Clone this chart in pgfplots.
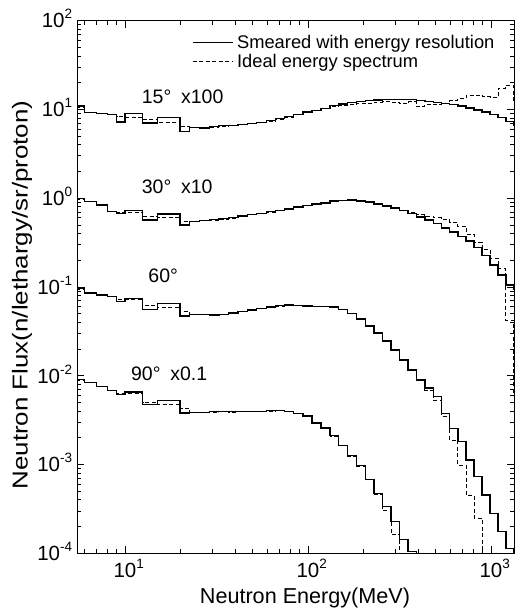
\documentclass[border=0pt]{standalone}
\usepackage{fontspec}
\setmainfont{Liberation Sans}
\usepackage{graphicx}
\usepackage{pgfplots}
\usepackage{pgfplotstable}
\pgfplotsset{compat=1.18}
\newcommand\ex[1]{\raisebox{0.44em}{\fontsize{13.5}{14}\selectfont #1}}

\pgfplotstableread{
E F
5 10.9
6 9.2
7 8.97
8 8.74
9 7.25
10 9.0
12.5 7.06
15 8.13
20 5.6
22.62 6.32
25.57 6.16
28.89 6.40
32.6 6.57
36.8 6.65
41.45 6.83
46.66 7.01
52.52 7.19
59.1 7.48
66.36 7.88
74.6 8.30
83.66 8.85
93.78 9.33
105.2 9.82
117.8 10.34
131.8 11.0
147.4 11.5
164.8 11.9
184.1 12.3
205.4 12.56
229.2 12.8
255.4 12.96
284.6 13.06
316.6 13.0
352.4 12.86
391.6 12.6
435.3 12.34
483.3 11.98
536.5 11.62
594.9 11.32
659.4 10.9
730.2 10.4
808.6 9.87
894.4 9.37
988.8 8.85
1092 8.19
1206 7.38
1330 6.65
1468 6.65
}\tabAs

\pgfplotstableread{
E F
5 10.5
6 9.2
7 8.97
8 8.74
9 8.3
10 8.19
12.5 7.78
15 7.19
20 6.37
22.62 6.24
25.57 6.08
28.89 6.24
32.6 6.40
36.8 6.57
41.45 6.74
46.66 6.92
52.52 7.19
59.1 7.38
66.36 7.78
74.6 8.19
83.66 8.74
93.78 9.2
105.2 9.7
117.8 10.2
131.8 10.75
147.4 11.04
164.8 11.32
184.1 11.62
205.4 11.78
229.2 12.08
255.4 12.24
284.6 12.08
316.6 11.62
352.4 12.24
391.6 10.75
435.3 11.32
483.3 11.47
536.5 11.78
594.9 12.56
659.4 13.3
730.2 14.3
808.6 14.5
894.4 14.0
988.8 13.6
1092 17.4
1206 18.8
1330 12.08
1468 12.08
}\tabAd

\pgfplotstableread{
E F
5 0.99
6 0.911
7 0.836
8 0.703
9 0.674
10 0.734
12.5 0.567
15 0.662
20 0.498
22.62 0.545
25.57 0.560
28.89 0.571
32.6 0.588
36.8 0.608
41.45 0.632
46.66 0.654
52.52 0.679
59.1 0.703
66.36 0.729
74.6 0.754
83.66 0.794
93.78 0.825
105.2 0.858
117.8 0.885
131.8 0.928
147.4 0.945
164.8 0.952
184.1 0.932
205.4 0.904
229.2 0.858
255.4 0.819
284.6 0.774
316.6 0.725
352.4 0.671
391.6 0.616
435.3 0.567
483.3 0.518
536.5 0.463
594.9 0.415
659.4 0.374
730.2 0.329
808.6 0.281
894.4 0.228
988.8 0.177
1092 0.136
1206 0.105
1330 0.0934
1468 0.0934
}\tabBs

\pgfplotstableread{
E F
5 0.97
6 0.911
7 0.836
8 0.72
9 0.70
10 0.69
12.5 0.617
15 0.608
20 0.542
22.62 0.545
25.57 0.556
28.89 0.566
32.6 0.585
36.8 0.600
41.45 0.625
46.66 0.650
52.52 0.672
59.1 0.700
66.36 0.722
74.6 0.750
83.66 0.790
93.78 0.820
105.2 0.855
117.8 0.880
131.8 0.915
147.4 0.935
164.8 0.945
184.1 0.935
205.4 0.905
229.2 0.865
255.4 0.825
284.6 0.780
316.6 0.734
352.4 0.697
391.6 0.654
435.3 0.629
483.3 0.605
536.5 0.582
594.9 0.538
659.4 0.485
730.2 0.394
808.6 0.321
894.4 0.267
988.8 0.212
1092 0.16
1206 0.0424
1330 0.00606
1468 0.00606
}\tabBd

\pgfplotstableread{
E F
5 0.0972
6 0.0854
7 0.0811
8 0.0775
9 0.0681
10 0.0744
12.5 0.0559
15 0.0654
20 0.0470
22.62 0.0489
25.57 0.0489
28.89 0.0483
32.6 0.0489
36.8 0.0508
41.45 0.0528
46.66 0.0549
52.52 0.0571
59.1 0.0594
66.36 0.0617
74.6 0.0626
83.66 0.0617
93.78 0.0609
105.2 0.0601
117.8 0.0601
131.8 0.0594
147.4 0.0556
164.8 0.0502
184.1 0.0435
205.4 0.0363
229.2 0.0303
255.4 0.0246
284.6 0.0195
316.6 0.0150
352.4 0.0116
391.6 0.00894
435.3 0.00727
483.3 0.0058
536.5 0.00377
594.9 0.00256
659.4 0.00181
730.2 0.001124
808.6 0.000729
894.4 0.000453
988.8 0.000282
1092 0.000175
1206 0.000114
1330 0.000001
1468 0.000001
}\tabCs

\pgfplotstableread{
E F
5 0.095
6 0.0854
7 0.0811
8 0.0775
9 0.0731
10 0.0731
12.5 0.0626
15 0.0589
20 0.0526
22.62 0.0489
25.57 0.0486
28.89 0.0483
32.6 0.0486
36.8 0.0505
41.45 0.0525
46.66 0.0546
52.52 0.0568
59.1 0.0590
66.36 0.0612
74.6 0.0622
83.66 0.0615
93.78 0.0606
105.2 0.0598
117.8 0.0598
131.8 0.0590
147.4 0.0560
164.8 0.0505
184.1 0.0430
205.4 0.0360
229.2 0.0300
255.4 0.0243
284.6 0.0193
316.6 0.0148
352.4 0.0114
391.6 0.00880
435.3 0.0069
483.3 0.00532
536.5 0.00345
594.9 0.00189
659.4 0.000987
730.2 0.000453
808.6 0.000248
894.4 0.000001
988.8 0.000001
}\tabCd

\pgfplotstableread{
E F
5 0.00904
6 0.00836
7 0.00764
8 0.00680
9 0.00613
10 0.00654
12.5 0.00473
15 0.00531
20 0.00381
22.62 0.00389
25.57 0.00389
28.89 0.00394
32.6 0.00394
36.8 0.00394
41.45 0.00399
46.66 0.00399
52.52 0.00399
59.1 0.00405
66.36 0.00405
74.6 0.00394
83.66 0.00379
93.78 0.00351
105.2 0.00294
117.8 0.00258
131.8 0.00212
147.4 0.00163
164.8 0.00126
184.1 0.000972
205.4 0.000676
229.2 0.000470
255.4 0.000336
284.6 0.000228
316.6 0.000143
352.4 0.000105
391.6 0.000001
435.3 0.000001
}\tabDs

\pgfplotstableread{
E F
5 0.0089
6 0.00836
7 0.00764
8 0.0069
9 0.0063
10 0.0063
12.5 0.00502
15 0.00479
20 0.00434
22.62 0.00386
25.57 0.00389
28.89 0.00391
32.6 0.00394
36.8 0.00391
41.45 0.00399
46.66 0.00396
52.52 0.00399
59.1 0.00402
66.36 0.00405
74.6 0.00392
83.66 0.00377
93.78 0.00348
105.2 0.00292
117.8 0.00256
131.8 0.00210
147.4 0.00165
164.8 0.00124
184.1 0.000960
205.4 0.000676
229.2 0.000465
255.4 0.000303
284.6 0.000163
316.6 0.000001
352.4 0.000001
}\tabDd

\begin{document}
\begin{tikzpicture}
\begin{axis}[
  scale only axis, width=437pt, height=532.6pt,
  xmode=log, ymode=log,
  xmin=5.49, xmax=1341, ymin=1e-4, ymax=1e2,
  xtick={10,100,1000},
  xticklabels={10\rlap{\ex{1}},10\rlap{\ex{2}},10\rlap{\ex{3}}},
  minor xtick={6,7,8,9,20,30,40,50,60,70,80,90,200,300,400,500,600,700,800,900},
  ytick={1e-4,1e-3,1e-2,1e-1,1,10,100},
  yticklabels={10\ex{-4},10\ex{-3},10\ex{-2},10\ex{-1},10\ex{0},10\ex{1},10\ex{2}},
  minor ytick={2e-4,3e-4,4e-4,5e-4,6e-4,7e-4,8e-4,9e-4,
               2e-3,3e-3,4e-3,5e-3,6e-3,7e-3,8e-3,9e-3,
               2e-2,3e-2,4e-2,5e-2,6e-2,7e-2,8e-2,9e-2,
               0.2,0.3,0.4,0.5,0.6,0.7,0.8,0.9,
               2,3,4,5,6,7,8,9,20,30,40,50,60,70,80,90},
  tick align=inside,
  major tick length=7pt, minor tick length=4pt,
  axis line style={line width=1.3pt},
  tick style={line width=0.9pt, black},
  xticklabel style={font=\fontsize{20.5}{22}\selectfont, anchor=base, inner sep=0pt, yshift=-24pt},
  yticklabel style={font=\fontsize{20.5}{22}\selectfont, anchor=base east, inner sep=0pt, xshift=-5pt, yshift=-7.3pt},
  label style={font=\fontsize{21.6}{24}\selectfont},
  xlabel={Neutron Energy(MeV)},
  xlabel style={at={(axis description cs:0.521,0)}, anchor=base, inner sep=0pt, yshift=-49.7pt},
  ylabel={\scalebox{1.2}[1]{Neutron Flux(n/lethargy/sr/proton)}},
  ylabel style={at={(axis description cs:-0.1265,0.485)}, anchor=center, inner sep=0pt},
  legend style={at={(axis description cs:0.2618,0.9735)}, anchor=north west, draw=none, fill=none,
    font=\fontsize{18.3}{22}\selectfont, inner sep=0pt, row sep=4pt, nodes={inner sep=0pt},
    /tikz/every odd column/.append style={column sep=4pt}},
  legend cell align=left,
  legend image code/.code={\draw[#1] (0pt,0pt) -- (40pt,0pt);},
]
\addlegendimage{black, line width=1.2pt}
\addlegendentry{Smeared with energy resolution}
\addlegendimage{black, line width=0.8pt, dash pattern=on 4pt off 2.5pt}
\addlegendentry{Ideal energy spectrum}

\addplot[const plot, black, line width=0.8pt, dash pattern=on 4pt off 2.5pt, forget plot] table[x=E,y=F] {\tabAd};
\addplot[const plot, black, line width=0.8pt, dash pattern=on 4pt off 2.5pt, forget plot] table[x=E,y=F] {\tabBd};
\addplot[const plot, black, line width=0.8pt, dash pattern=on 4pt off 2.5pt, forget plot] table[x=E,y=F] {\tabCd};
\addplot[const plot, black, line width=0.8pt, dash pattern=on 4pt off 2.5pt, forget plot] table[x=E,y=F] {\tabDd};
\addplot[const plot, black, line width=1.3pt, forget plot] table[x=E,y=F] {\tabAs};
\addplot[const plot, black, line width=1.3pt, forget plot] table[x=E,y=F] {\tabBs};
\addplot[const plot, black, line width=1.3pt, forget plot] table[x=E,y=F] {\tabCs};
\addplot[const plot, black, line width=1.3pt, forget plot] table[x=E,y=F] {\tabDs};

\node[anchor=base west, inner sep=0pt, font=\fontsize{19.5}{22}\selectfont] at (axis cs:12.34,11.68) {15°\hspace{0.5em}x100};
\node[anchor=base west, inner sep=0pt, font=\fontsize{19.5}{22}\selectfont] at (axis cs:12.34,1.133) {30°\hspace{0.5em}x10};
\node[anchor=base west, inner sep=0pt, font=\fontsize{19.5}{22}\selectfont] at (axis cs:13.4,0.1135) {60°};
\node[anchor=base west, inner sep=0pt, font=\fontsize{19.5}{22}\selectfont] at (axis cs:10.78,0.00895) {90°\hspace{0.5em}x0.1};
\end{axis}
\pgfresetboundingbox
\path ([shift={(-77.3pt,-58.7pt)}]current axis.south west) rectangle ([shift={(5.7pt,20.7pt)}]current axis.north east);
\end{tikzpicture}
\end{document}
